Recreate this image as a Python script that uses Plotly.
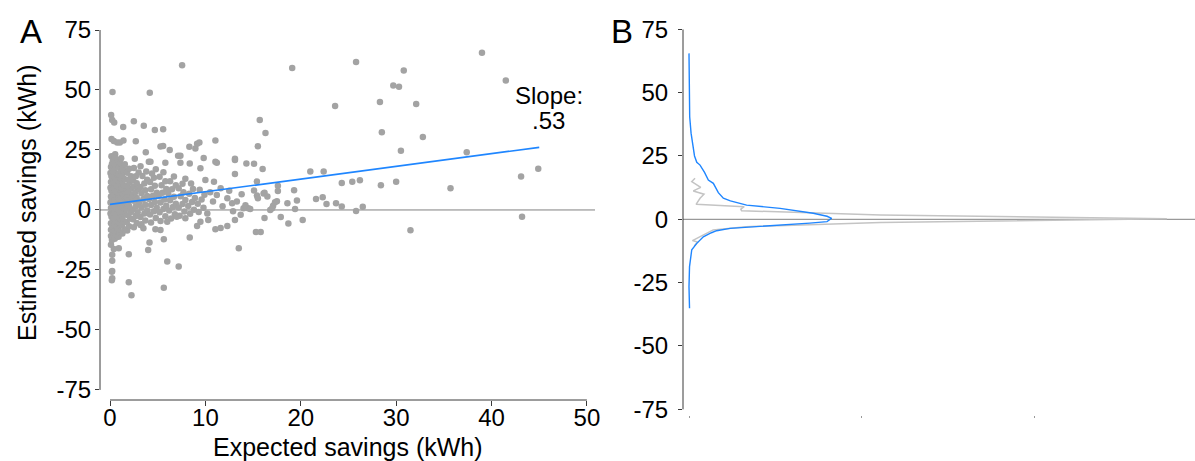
import plotly.graph_objects as go

W, H = 1195, 461

# ---------------- Panel A data: (expected savings, estimated savings) ----------------
far_points = [
    (39.0, 65.5), (25.8, 61.7), (19.1, 59.2), (30.8, 58.1), (29.7, 51.9), (30.3, 51.4),
    (41.5, 54.0), (28.3, 45.0), (23.6, 43.3), (32.1, 44.2), (15.7, 37.5), (16.3, 32.1),
    (28.5, 32.4), (32.8, 30.4), (15.5, 26.5), (15.1, 19.3), (16.0, 17.1), (30.5, 24.7),
    (37.4, 24.0), (21.0, 16.0), (22.4, 16.0), (15.4, 11.9), (24.3, 11.2), (25.4, 11.8),
    (26.2, 12.4), (28.4, 10.3), (30.0, 11.8), (35.7, 9.0), (43.1, 13.9), (44.9, 17.2),
    (43.2, -2.8), (31.5, -8.5), (15.1, 8.1), (15.4, 6.0), (15.5, 4.9), (16.1, 6.9),
    (16.2, 7.2), (16.5, 5.6), (17.6, 10.1), (17.6, 7.9), (19.3, 8.2), (18.6, 2.8),
    (19.6, 3.9), (19.4, 0.4), (21.6, 4.6), (22.3, 5.3), (22.7, 2.5), (23.7, 2.8),
    (24.3, 1.4), (25.8, -0.4), (26.5, 1.3), (16.8, 0.0), (17.1, 1.8), (17.3, 3.2),
    (17.5, 3.6), (17.0, 0.7), (16.2, -3.3), (17.9, -2.9), (18.7, -5.6), (20.2, -4.2),
    (15.3, -9.2), (15.8, -9.2), (14.7, 0.4),
]

upper_points = [
    (7.56, 60.3), (0.26, 49.2), (4.17, 48.9), (0.12, 39.6), (0.23, 37.5), (0.44, 36.5),
    (2.5, 37.0), (1.38, 34.6), (3.54, 35.1), (4.7, 33.3), (5.57, 33.6), (0.16, 29.6),
    (0.4, 28.7), (0.75, 28.1), (1.03, 28.1), (1.41, 29.0), (2.7, 28.6), (3.75, 24.0),
    (5.29, 26.4), (5.57, 26.7), (6.26, 25.0), (7.14, 22.6), (7.38, 22.6), (8.32, 26.3),
    (8.95, 25.6), (9.13, 27.6), (9.37, 28.1), (11.05, 28.9), (0.54, 23.2), (0.5, 21.8),
    (1.17, 21.5), (2.6, 21.3), (9.82, 21.7), (13.1, 21.3),
]

mid_points = [
    (4.07, 20.1), (4.24, 20.1), (5.8, 19.7), (7.38, 19.7), (8.36, 19.4), (9.48, 17.4),
    (11.05, 20.1), (11.2, 19.7), (13.1, 20.8), (14.3, 19.4), (13.1, 15.0), (10.9, 11.8),
    (10.0, 12.5), (11.6, 9.0), (12.3, 4.9), (12.8, 2.8), (13.3, 3.5), (14.0, 0.7),
    (14.5, 0.7), (10.3, -4.2), (11.05, -8.0), (11.6, -7.5), (12.3, -6.7), (13.1, -4.2),
    (13.5, -16.0), (9.48, -4.9), (9.13, -6.7), (8.36, -11.5), (7.9, -3.5), (7.0, -2.8),
    (6.0, -4.9), (5.29, -8.3), (4.76, -8.0), (5.64, -12.2), (4.14, -13.6), (4.0, -16.7),
    (6.0, -21.5), (7.2, -23.6), (1.97, -18.5), (0.92, -16.0), (0.4, -16.3), (0.23, -18.7),
    (0.23, -21.2), (0.23, -25.4), (0.23, -28.5), (3.2, -6.3), (3.5, -7.6),
    (0.19, -25.7), (0.19, -29.3), (1.97, -30.1), (5.64, -32.4), (2.25, -35.5),
    (10.5, 7.4), (11.2, 6.2), (12.5, 8.0), (13.8, 6.5), (14.2, 2.0), (10.8, 3.5),
    (11.8, 1.5), (12.9, -0.5), (10.2, -1.5), (13.7, -2.0),
]

cluster_points = [
    (0.1, -14.5), (0.2, -12.5), (0.1, -10.8), (0.3, -9.6), (0.1, -8.2), (0.25, -6.9),
    (0.1, -5.5), (0.3, -4.1), (0.15, -2.8), (0.05, -1.5), (0.3, -0.4), (0.1, 0.8),
    (0.25, 2.0), (0.05, 3.1), (0.2, 4.4), (0.1, 5.6), (0.3, 6.8), (0.15, 8.0),
    (0.05, 9.3), (0.25, 10.5), (0.1, 11.7), (0.3, 12.9), (0.15, 14.1), (0.05, 15.4),
    (0.25, 16.6), (0.1, 17.9), (0.2, 19.2), (0.3, 20.6), (0.15, 22.4),
    (0.5, -12.0), (0.6, -10.2), (0.45, -8.8), (0.7, -7.4), (0.5, -6.0), (0.65, -4.7),
    (0.4, -3.3), (0.6, -2.0), (0.5, -0.7), (0.7, 0.5), (0.45, 1.7), (0.6, 2.9),
    (0.5, 4.1), (0.7, 5.3), (0.4, 6.5), (0.6, 7.7), (0.5, 8.9), (0.7, 10.1),
    (0.45, 11.3), (0.6, 12.6), (0.5, 13.9), (0.7, 15.2), (0.4, 16.5), (0.6, 17.9),
    (0.5, 19.4), (0.65, 21.0),
    (0.9, -11.2), (1.0, -9.4), (0.85, -7.9), (1.1, -6.4), (0.9, -5.0), (1.05, -3.6),
    (0.8, -2.3), (1.0, -1.0), (0.9, 0.2), (1.1, 1.4), (0.85, 2.6), (1.0, 3.8),
    (0.9, 5.0), (1.1, 6.2), (0.8, 7.4), (1.0, 8.6), (0.9, 9.8), (1.1, 11.0),
    (0.85, 12.3), (1.0, 13.6), (0.9, 15.0), (1.1, 16.4), (0.95, 18.0), (1.05, 19.6),
    (1.3, -9.8), (1.5, -8.0), (1.25, -6.3), (1.45, -4.8), (1.3, -3.3), (1.55, -1.9),
    (1.2, -0.6), (1.4, 0.7), (1.3, 1.9), (1.6, 3.1), (1.25, 4.3), (1.45, 5.5),
    (1.35, 6.7), (1.55, 7.9), (1.2, 9.1), (1.4, 10.3), (1.3, 11.6), (1.5, 12.9),
    (1.25, 14.3), (1.45, 15.8), (1.35, 17.4), (1.55, 19.0),
    (1.8, -8.6), (2.0, -6.8), (1.75, -5.1), (2.1, -3.6), (1.9, -2.2), (2.2, -0.9),
    (1.7, 0.4), (2.0, 1.6), (1.85, 2.8), (2.15, 4.0), (1.75, 5.2), (2.0, 6.4),
    (1.9, 7.6), (2.2, 8.8), (1.8, 10.0), (2.05, 11.3), (1.9, 12.6), (2.2, 14.0),
    (1.8, 15.5), (2.0, 17.2),
    (2.5, -7.2), (2.8, -5.4), (2.4, -3.9), (2.7, -2.5), (2.9, -1.1), (2.4, 0.2),
    (2.7, 1.4), (3.0, 2.6), (2.5, 3.8), (2.8, 5.0), (2.35, 6.2), (2.65, 7.4),
    (2.95, 8.6), (2.5, 9.8), (2.8, 11.1), (2.4, 12.5), (2.7, 14.0), (3.0, 15.6),
    (2.5, 17.5),
    (3.3, -6.0), (3.7, -4.4), (3.2, -2.9), (3.6, -1.5), (3.9, -0.2), (3.3, 1.0),
    (3.7, 2.2), (3.1, 3.4), (3.5, 4.6), (3.9, 5.8), (3.3, 7.0), (3.7, 8.2),
    (3.2, 9.6), (3.6, 11.0), (3.9, 12.6), (3.4, 14.2), (3.8, 16.0), (3.2, 18.2),
    (4.3, -5.2), (4.8, -3.4), (4.2, -1.9), (4.6, -0.5), (4.9, 0.9), (4.3, 2.1),
    (4.7, 3.3), (4.1, 4.6), (4.5, 5.9), (4.9, 7.2), (4.3, 8.6), (4.7, 10.1),
    (4.2, 11.7), (4.6, 13.4), (4.4, 15.2), (4.8, 17.0),
    (5.3, -4.6), (5.8, -2.6), (5.2, -1.0), (5.6, 0.4), (5.9, 1.8), (5.3, 3.1),
    (5.7, 4.4), (5.1, 5.8), (5.5, 7.2), (5.9, 8.7), (5.4, 10.3), (5.8, 12.0),
    (5.2, 13.8), (5.6, 15.7),
    (6.4, -3.6), (6.8, -1.8), (6.2, -0.2), (6.6, 1.2), (6.9, 2.6), (6.3, 4.0),
    (6.7, 5.5), (6.1, 7.0), (6.5, 8.6), (6.9, 10.3), (6.3, 12.0), (6.7, 13.9),
    (7.3, -2.4), (7.8, -0.6), (7.2, 1.0), (7.6, 2.5), (7.9, 4.1), (7.4, 5.7),
    (7.7, 7.4), (7.2, 9.1), (7.6, 10.9), (7.9, 13.0),
    (8.4, -1.6), (8.8, 0.1), (8.2, 1.7), (8.6, 3.3), (8.9, 5.0), (8.3, 6.8),
    (8.7, 8.7), (8.5, 11.0),
    (9.3, -0.8), (9.8, 0.9), (9.2, 2.6), (9.6, 4.4), (9.9, 6.3), (9.4, 8.4),
]

fit_x = [0, 45]
fit_y = [2.3, 26.1]
slope_lines = ["Slope:", ".53"]
slope_line_y = [47.9, 37.3]

# ---------------- Panel B data: densities of estimated savings ----------------
blue_y = [65.5, 58, 50, 40.5, 34, 30, 25, 22.5, 21.4, 18.5, 15.5, 14.2, 12.2, 10.5, 8.3,
          7.3, 5.6, 4.3, 2.4, 1.2, 0.4, -0.3, -0.9, -1.5, -2.2, -3.0, -3.6, -4.5, -5.3,
          -6.9, -9.5, -12.0, -18.7, -26.6, -35.1]
blue_d = [0.0, 0.0, 0.0003, 0.0004, 0.0012, 0.002, 0.0032, 0.0045, 0.0064, 0.0090, 0.0112,
          0.0141, 0.0155, 0.0170, 0.0199, 0.024, 0.0334, 0.0528, 0.072, 0.080, 0.0827,
          0.0815, 0.080, 0.070, 0.053, 0.036, 0.0238, 0.016, 0.013, 0.0083, 0.0045,
          0.0016, 0.0003, 0.0, 0.0003]

gray_y = [16.2, 14.9, 12.6, 11.2, 9.9, 8.3, 5.9, 5.0, 4.0, 3.4, 1.7, 0.2, -1.3, -2.0,
          -2.9, -4.2, -6.2, -7.5, -8.4, -9.0, -10.5]
gray_d = [0.0035, 0.0016, 0.0068, 0.0025, 0.0087, 0.0064, 0.0041, 0.0320, 0.0300, 0.0305,
          0.111, 0.277, 0.111, 0.072, 0.033, 0.014, 0.0083, 0.0054, 0.0020, 0.0050, 0.003]

y_ticks = [-75, -50, -25, 0, 25, 50, 75]
y_tick_text = ["-75", "-50", "-25", "0", "25", "50", "75"]
x_ticks = [0, 10, 20, 30, 40, 50]
d_ticks = [0, 0.1, 0.2]

FONT = "Liberation Sans, Arial, sans-serif"
GRAY_PT = "#a3a3a3"
BLUE = "#1f86ff"
AXIS = "#3a3a3a"
ZERO = "#808080"

pts = cluster_points + mid_points + upper_points + far_points
sx = [p[0] for p in pts]
sy = [p[1] for p in pts]

fig = go.Figure()
fig.add_trace(go.Scatter(x=sx, y=sy, mode="markers",
                         marker=dict(size=6.5, color=GRAY_PT, line=dict(width=0)),
                         xaxis="x", yaxis="y", showlegend=False))
fig.add_trace(go.Scatter(x=fit_x, y=fit_y, mode="lines", line=dict(color=BLUE, width=1.7),
                         xaxis="x", yaxis="y", showlegend=False))
fig.add_trace(go.Scatter(x=gray_d, y=gray_y, mode="lines", line=dict(color="#c4c4c4", width=1.5),
                         xaxis="x2", yaxis="y2", showlegend=False))
fig.add_trace(go.Scatter(x=blue_d, y=blue_y, mode="lines", line=dict(color=BLUE, width=1.4),
                         xaxis="x2", yaxis="y2", showlegend=False))

# panel geometry (pixels)
A_left, A_right, A_top, A_bot = 100, 595, 30, 400
B_left, B_right, B_top, B_bot = 683, 1195, 29.3, 415

tickfont = dict(family=FONT, size=24, color="black")

fig.update_layout(
    width=W, height=H,
    margin=dict(l=0, r=0, t=0, b=0),
    paper_bgcolor="white", plot_bgcolor="white",
    font=dict(family=FONT, color="black"),
    xaxis=dict(domain=[A_left / W, A_right / W], range=[-1.05, 50.85],
               tickvals=x_ticks, ticks="outside", ticklen=5, tickcolor=AXIS,
               ticklabelstandoff=-9,
               showline=False, showgrid=False, zeroline=False, tickfont=tickfont,
               anchor="y", automargin=False),
    yaxis=dict(domain=[1 - A_bot / H, 1 - A_top / H], range=[-79.2, 75],
               tickvals=y_ticks, ticktext=y_tick_text, ticks="outside", ticklen=4,
               ticklabelstandoff=-1,
               tickcolor=AXIS, showline=False, showgrid=False, zeroline=False,
               tickfont=tickfont, anchor="x", automargin=False),
    xaxis2=dict(domain=[B_left / W, B_right / W], range=[-0.00348, 0.2933],
                tickvals=d_ticks, ticks="outside", ticklen=2, tickcolor="#999",
                showticklabels=False, showline=False, showgrid=False, zeroline=False,
                anchor="y2", automargin=False),
    yaxis2=dict(domain=[1 - B_bot / H, 1 - B_top / H], range=[-77.25, 75],
                tickvals=y_ticks, ticktext=y_tick_text, ticks="outside", ticklen=4,
                ticklabelstandoff=5,
                tickcolor=AXIS, showline=False, showgrid=False, zeroline=False,
                tickfont=tickfont, anchor="x2", automargin=False),
)

shapes = [
    # panel A axes
    dict(type="line", xref="x domain", yref="y", x0=0, x1=0, y0=-75, y1=75,
         line=dict(color=AXIS, width=1)),
    dict(type="line", xref="x", yref="y domain", x0=0, x1=50, y0=0, y1=0,
         line=dict(color=AXIS, width=1)),
    dict(type="line", xref="x domain", yref="y", x0=0, x1=1, y0=0, y1=0,
         line=dict(color=ZERO, width=1), layer="below"),
    # panel B axes
    dict(type="line", xref="x2 domain", yref="y2", x0=0, x1=0, y0=-75, y1=75,
         line=dict(color=AXIS, width=1)),
    dict(type="line", xref="x2 domain", yref="y2", x0=0, x1=1, y0=0, y1=0,
         line=dict(color=ZERO, width=1), layer="below"),
]
fig.update_layout(shapes=shapes)

annotations = [
    dict(text="A", x=31 / W, y=1 - 32 / H, xref="paper", yref="paper", showarrow=False,
         font=dict(family=FONT, size=33, color="black"), xanchor="center", yanchor="middle"),
    dict(text="B", x=622 / W, y=1 - 32 / H, xref="paper", yref="paper", showarrow=False,
         font=dict(family=FONT, size=33, color="black"), xanchor="center", yanchor="middle"),
    dict(text="Expected savings (kWh)", x=348 / W, y=1 - 447 / H, xref="paper", yref="paper",
         showarrow=False, font=dict(family=FONT, size=25, color="black"),
         xanchor="center", yanchor="middle"),
    dict(text="Estimated savings (kWh)", x=27 / W, y=1 - 203 / H, xref="paper", yref="paper",
         showarrow=False, textangle=-90, font=dict(family=FONT, size=25, color="black"),
         xanchor="center", yanchor="middle"),
]
for line_text, line_y in zip(slope_lines, slope_line_y):
    annotations.append(dict(text=line_text, x=46.0, y=line_y, xref="x", yref="y",
                            showarrow=False, font=dict(family=FONT, size=24, color="black"),
                            xanchor="center", yanchor="middle"))
fig.update_layout(annotations=annotations)

fig.write_html("out.html")
